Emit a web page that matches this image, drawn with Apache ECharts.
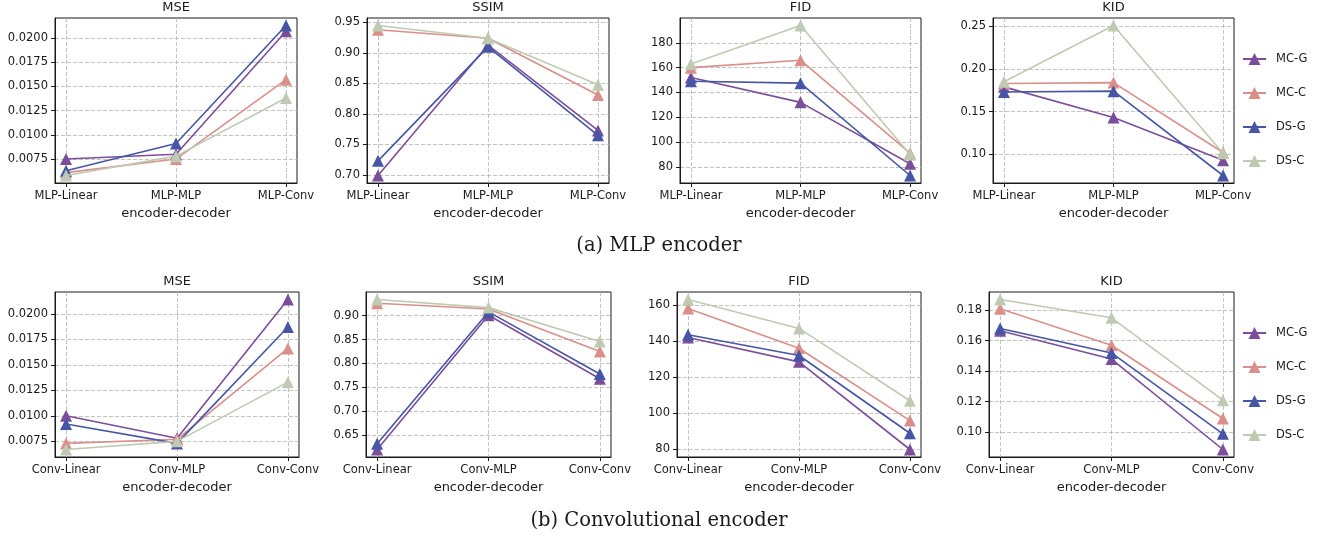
<!DOCTYPE html>
<html>
<head>
<meta charset="utf-8">
<script src="https://cdn.jsdelivr.net/npm/echarts@6/dist/echarts.min.js"></script>
<style>
  html, body { margin: 0; padding: 0; background: #fff; }
  #chart { width: 1323px; height: 540px; }
</style>
</head>
<body>
<div id="chart"></div>
<script>
const seriesNames = ['MC-G', 'MC-C', 'DS-G', 'DS-C'];
const seriesColors = ['#7b4e9c', '#da8f8a', '#4656a5', '#bfcab2'];
const mlpCategories = ['MLP-Linear', 'MLP-MLP', 'MLP-Conv'];
const convCategories = ['Conv-Linear', 'Conv-MLP', 'Conv-Conv'];

// rows: MC-G, MC-C, DS-G, DS-C
const mlpMse = [[0.0075, 0.0080, 0.0207], [0.0061, 0.0075, 0.0157], [0.0063, 0.0091, 0.0213], [0.0058, 0.0078, 0.0138]];
const mlpSsim = [[0.699, 0.913, 0.773], [0.938, 0.924, 0.831], [0.723, 0.910, 0.765], [0.945, 0.924, 0.848]];
const mlpFid = [[152, 132, 82.5], [160, 166, 91], [149, 147.5, 73], [163, 194, 90]];
const mlpKid = [[0.179, 0.143, 0.093], [0.183, 0.184, 0.102], [0.173, 0.174, 0.075], [0.185, 0.251, 0.101]];

const convMse = [[0.0100, 0.0078, 0.0214], [0.0073, 0.0077, 0.0166], [0.0092, 0.0073, 0.0187], [0.0067, 0.0075, 0.0133]];
const convSsim = [[0.620, 0.901, 0.768], [0.926, 0.914, 0.825], [0.632, 0.908, 0.778], [0.934, 0.917, 0.846]];
const convFid = [[142, 128.5, 80], [158, 136, 96], [143.5, 132, 89], [163, 147, 107]];
const convKid = [[0.1665, 0.148, 0.0887], [0.181, 0.157, 0.109], [0.168, 0.152, 0.099], [0.187, 0.175, 0.121]];

// tick labels
const mseTicks = [0.0075, 0.0100, 0.0125, 0.0150, 0.0175, 0.0200];
const ssimTicksMlp = [0.70, 0.75, 0.80, 0.85, 0.90, 0.95];
const ssimTicksConv = [0.65, 0.70, 0.75, 0.80, 0.85, 0.90, 0.95];
const fidTicksMlp = [80, 100, 120, 140, 160, 180];
const fidTicksConv = [80, 100, 120, 140, 160];
const kidTicksMlp = [0.10, 0.15, 0.20, 0.25];
const kidTicksConv = [0.10, 0.12, 0.14, 0.16, 0.18];

const captions = ['(a) MLP encoder', '(b) Convolutional encoder'];
const xLabel = 'encoder-decoder';

const FONT = 'DejaVu Sans';
const INK = '#1a1a1a';

// layout of the 8 panels (pixels)
const rows = [{ top: 18, bottom: 183, cats: mlpCategories }, { top: 292, bottom: 457, cats: convCategories }];
const panels = [
  { row: 0, title: 'MSE', values: mlpMse, ticks: mseTicks, dec: 4, left: 55, right: 297 },
  { row: 0, title: 'SSIM', values: mlpSsim, ticks: ssimTicksMlp, dec: 2, left: 367, right: 609 },
  { row: 0, title: 'FID', values: mlpFid, ticks: fidTicksMlp, dec: 0, left: 680, right: 921 },
  { row: 0, title: 'KID', values: mlpKid, ticks: kidTicksMlp, dec: 2, left: 993, right: 1234 },
  { row: 1, title: 'MSE', values: convMse, ticks: mseTicks, dec: 4, left: 55, right: 299 },
  { row: 1, title: 'SSIM', values: convSsim, ticks: ssimTicksConv, dec: 2, left: 366, right: 611 },
  { row: 1, title: 'FID', values: convFid, ticks: fidTicksConv, dec: 0, left: 677, right: 921 },
  { row: 1, title: 'KID', values: convKid, ticks: kidTicksConv, dec: 2, left: 989, right: 1234 }
];

const grids = [], xAxes = [], yAxes = [], series = [], graphics = [];
const gridLine = { show: true, lineStyle: { type: [4, 2], color: '#b4b4b4', width: 0.8 } };

panels.forEach(function (p, i) {
  const r = rows[p.row];
  const all = [].concat.apply([], p.values);
  const lo = Math.min.apply(null, all), hi = Math.max.apply(null, all);
  const pad = (hi - lo) * 0.05; // matplotlib default margins

  grids.push({
    left: p.left, top: r.top, width: p.right - p.left, height: r.bottom - r.top,
    show: true, borderColor: INK, borderWidth: 1, backgroundColor: 'transparent',
    containLabel: false, outerBoundsMode: 'none'
  });
  xAxes.push({
    gridIndex: i, type: 'value', min: -0.1, max: 2.1,
    axisLine: { show: true, onZero: false, lineStyle: { color: INK, width: 1 } },
    axisTick: { show: true, length: 4, customValues: [0, 1, 2], lineStyle: { color: INK, width: 1 } },
    axisLabel: {
      customValues: [0, 1, 2], margin: 7, fontSize: 11.5, color: INK, fontFamily: FONT,
      formatter: function (v) { return r.cats[Math.round(v)]; }
    },
    splitLine: gridLine,
    name: xLabel, nameLocation: 'middle', nameGap: 24,
    nameTextStyle: { fontSize: 13, color: INK, fontFamily: FONT }
  });
  yAxes.push({
    gridIndex: i, type: 'value', min: lo - pad, max: hi + pad,
    axisLine: { show: true, onZero: false, lineStyle: { color: INK, width: 1 } },
    axisTick: { show: true, length: 4, customValues: p.ticks, lineStyle: { color: INK, width: 1 } },
    axisLabel: {
      customValues: p.ticks, margin: 7, fontSize: 11.5, color: INK, fontFamily: FONT,
      formatter: function (v) { return v.toFixed(p.dec); }
    },
    splitLine: gridLine
  });
  p.values.forEach(function (vals, s) {
    series.push({
      type: 'line', name: seriesNames[s], xAxisIndex: i, yAxisIndex: i,
      data: vals.map(function (v, k) { return [k, v]; }),
      symbol: 'triangle', symbolSize: 12, showSymbol: true,
      color: seriesColors[s],
      lineStyle: { width: 1.6, color: seriesColors[s] },
      itemStyle: { color: seriesColors[s], opacity: 1 },
      emphasis: { disabled: true }, silent: true, z: 2 + s
    });
  });
  graphics.push({
    type: 'text', x: (p.left + p.right) / 2, y: r.top - 10.5,
    style: { text: p.title, fontSize: 13, fontFamily: FONT, fill: INK, textAlign: 'center', textVerticalAlign: 'middle' }
  });
});

captions.forEach(function (c, i) {
  graphics.push({
    type: 'text', x: 659, y: i === 0 ? 246 : 521,
    style: { text: c, fontSize: 19.5, fontFamily: 'DejaVu Serif', fill: INK, textAlign: 'center', textVerticalAlign: 'middle' }
  });
});

const legendBase = {
  orient: 'vertical', left: 1242, itemWidth: 23, itemHeight: 15, itemGap: 22, padding: 0,
  data: seriesNames,
  textStyle: { fontSize: 11.5, color: INK, fontFamily: FONT, padding: [0, 0, 0, 5] },
  selectedMode: false
};

const chart = echarts.init(document.getElementById('chart'), null, { renderer: 'canvas' });
chart.setOption({
  animation: false,
  backgroundColor: '#fff',
  textStyle: { fontFamily: FONT },
  grid: grids,
  xAxis: xAxes,
  yAxis: yAxes,
  series: series,
  legend: [
    Object.assign({}, legendBase, { top: 53 }),
    Object.assign({}, legendBase, { top: 327 })
  ],
  graphic: graphics
});
</script>
</body>
</html>
